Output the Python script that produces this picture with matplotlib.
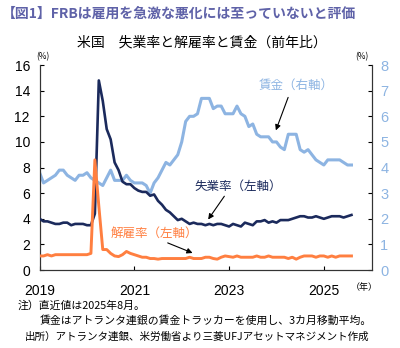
import numpy as np
import matplotlib
matplotlib.use("Agg")
import matplotlib.pyplot as plt

plt.rcParams['font.family'] = ['Noto Sans CJK JP', 'DejaVu Sans']

# 月次データ 2019年1月～2025年8月
unemp = [4.0, 3.8, 3.8, 3.7, 3.6, 3.6, 3.7, 3.7, 3.5, 3.6, 3.6, 3.6,
         3.5, 3.5, 4.4, 14.8, 13.2, 11.0, 10.2, 8.4, 7.8, 6.9, 6.7, 6.7,
         6.4, 6.2, 6.1, 6.1, 5.8, 5.9, 5.4, 5.1, 4.7, 4.5, 4.2, 3.9,
         4.0, 3.8, 3.6, 3.7, 3.6, 3.6, 3.5, 3.6, 3.5, 3.6, 3.6, 3.5,
         3.4, 3.6, 3.5, 3.4, 3.7, 3.6, 3.5, 3.8, 3.8, 3.9, 3.7, 3.8,
         3.7, 3.9, 3.9, 3.9, 4.0, 4.1, 4.2, 4.2, 4.1, 4.1, 4.2, 4.1,
         4.0, 4.1, 4.2, 4.2, 4.2, 4.1, 4.2, 4.3]
layoff = [1.1, 1.1, 1.2, 1.1, 1.2, 1.2, 1.2, 1.2, 1.2, 1.2, 1.2, 1.2,
          1.2, 1.3, 8.6, 5.0, 1.6, 1.6, 1.3, 1.1, 1.05, 1.2, 1.45, 1.3,
          1.2, 1.1, 1.0, 1.0, 0.9, 0.9, 0.85, 0.9, 0.9, 0.9, 0.9, 0.9,
          0.9, 0.9, 1.0, 0.9, 0.9, 0.9, 1.0, 1.0, 0.9, 0.85, 1.0, 1.1,
          1.05, 1.0, 1.1, 1.0, 1.0, 1.0, 1.0, 1.1, 1.0, 1.0, 1.1, 1.0,
          1.0, 1.0, 1.0, 0.9, 1.0, 0.85, 1.0, 1.1, 1.1, 1.1, 1.0, 1.1,
          1.1, 1.0, 1.1, 1.0, 1.1, 1.1, 1.1, 1.1]
wage = [3.8, 3.4, 3.5, 3.6, 3.7, 3.9, 3.9, 3.7, 3.6, 3.5, 3.7, 3.7,
        3.8, 3.6, 3.5, 3.4, 3.3, 3.6, 3.9, 3.5, 3.5, 3.5, 3.7, 3.5,
        3.4, 3.4, 3.4, 3.3, 3.0, 3.4, 3.6, 3.9, 4.2, 4.1, 4.3, 4.5,
        5.0, 5.8, 6.0, 6.0, 6.1, 6.7, 6.7, 6.7, 6.3, 6.4, 6.4, 6.1,
        6.1, 6.1, 6.4, 6.1, 6.0, 5.6, 5.7, 5.3, 5.2, 5.2, 5.2, 5.0,
        5.0, 4.8, 4.7, 5.3, 5.3, 5.3, 4.7, 4.6, 4.7, 4.5, 4.3, 4.2,
        4.1, 4.3, 4.3, 4.3, 4.3, 4.2, 4.1, 4.1]
year_ticks = [0, 24, 48, 72]
year_labels = ['2019', '2021', '2023', '2025']

navy = '#1b2a5c'
orange = '#ff7f40'
lblue = '#8db4e2'

x = np.arange(len(unemp))

fig = plt.figure(figsize=(4.0, 3.48), dpi=100)
ax = fig.add_axes([0.099, 0.224, 0.831, 0.589])
ax2 = ax.twinx()

ax2.plot(x, wage, color=lblue, lw=2.2, zorder=2)
ax.plot(x, unemp, color=navy, lw=1.9, zorder=3)
ax.plot(x, layoff, color=orange, lw=2.1, zorder=3)
ax.set_zorder(ax2.get_zorder() + 1)
ax.patch.set_visible(False)

ax.set_xlim(0, 84.2)
ax.set_ylim(0, 16)
ax2.set_ylim(0, 8)
ax.set_yticks(range(0, 17, 2))
ax2.set_yticks(range(0, 9))
ax.set_xticks(year_ticks)
ax.set_xticklabels(year_labels)

ax.tick_params(axis='y', direction='in', length=3, labelsize=10, pad=7)
ax.tick_params(axis='x', direction='in', length=3, labelsize=10, pad=10)
ax2.tick_params(axis='y', direction='in', length=3, labelsize=10.5,
                labelcolor=lblue, pad=6)
for lbl in ax.get_xticklabels() + ax.get_yticklabels() + ax2.get_yticklabels():
    lbl.set_family('Liberation Sans')
for a in (ax, ax2):
    a.spines['top'].set_visible(False)
    for s in ('left', 'right', 'bottom'):
        a.spines[s].set_color('#333333')

# 系列ラベルと矢印
arrow = dict(arrowstyle='-|>', color='black', lw=0.8, mutation_scale=8)
ax2.text(65, 7.23, '賃金（右軸）', color=lblue, fontsize=9, ha='center', va='center')
ax2.annotate('', xy=(59.6, 5.35), xytext=(63.2, 6.84), arrowprops=arrow)
ax.text(50.2, 6.56, '失業率（左軸）', color=navy, fontsize=9, ha='center', va='center')
ax.annotate('', xy=(42.3, 3.77), xytext=(47.2, 5.94), arrowprops=arrow)
ax.text(29.2, 2.89, '解雇率（左軸）', color=orange, fontsize=9, ha='center', va='center')
ax.annotate('', xy=(39.4, 1.25), xytext=(31.8, 2.2), arrowprops=arrow)

fig.text(0.005, 0.96, '【図1】FRBは雇用を急激な悪化には至っていないと評価',
         color='#5f62a8', fontsize=10, fontweight='bold', ha='left', va='center')
fig.text(0.505, 0.878, '米国　失業率と解雇率と賃金（前年比）', color='black',
         fontsize=10, ha='center', va='center')
fig.text(0.108, 0.838, '(%)', fontsize=6, ha='center', va='center')
fig.text(0.905, 0.838, '(%)', fontsize=6, ha='center', va='center')
fig.text(0.91, 0.175, '（年）', fontsize=6.5, ha='center', va='center')

fig.text(0.045, 0.123, '注）直近値は2025年8月。', fontsize=7.8, ha='left', va='center')
fig.text(0.1, 0.080, '賃金はアトランタ連銀の賃金トラッカーを使用し、3カ月移動平均。',
         fontsize=7.8, ha='left', va='center')
fig.text(0.063, 0.032, '出所）アトランタ連銀、米労働省より三菱UFJアセットマネジメント作成',
         fontsize=7.6, ha='left', va='center')

fig.savefig('out.png', dpi=100)
